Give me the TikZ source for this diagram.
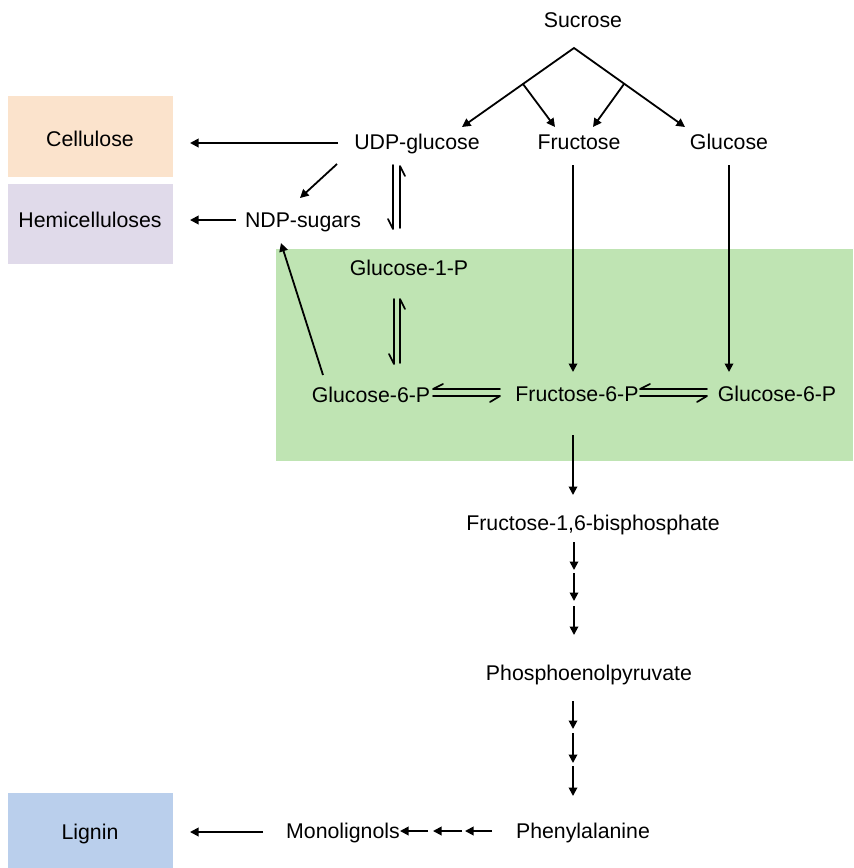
\documentclass[tikz,border=0pt]{standalone}
\usepackage{fontspec}
\setmainfont{Liberation Sans}
\usetikzlibrary{arrows.meta,calc}
\definecolor{cellc}{RGB}{251,227,204}
\definecolor{hemic}{RGB}{224,218,234}
\definecolor{greenc}{RGB}{191,228,179}
\definecolor{ligc}{RGB}{186,207,236}
\begin{document}
\begin{tikzpicture}[x=1pt,y=-1pt,
  lbl/.style={font=\fontsize{21.3}{25}\selectfont, inner sep=0pt, anchor=center, text height=15pt, text depth=0pt},
  areabox/.style={draw=none, inner sep=0pt, anchor=north west},
  arr/.style={line width=1.8pt, -{Triangle[length=8.5pt,width=8.5pt]}},
  darr/.style={line width=1.8pt, {Triangle[length=8.5pt,width=8.5pt]}-{Triangle[length=8.5pt,width=8.5pt]}},
  ln/.style={line width=1.7pt, line join=round, line cap=round}]
\useasboundingbox (0,0) rectangle (854,868);
% coloured areas
\node[areabox, fill=cellc, minimum width=165pt, minimum height=81pt] (cellbox) at (8,96) {};
\node[areabox, fill=hemic, minimum width=165pt, minimum height=80pt] (hemibox) at (8,184) {};
\node[areabox, fill=ligc, minimum width=165pt, minimum height=75pt] (ligbox) at (8,793) {};
\node[areabox, fill=greenc, minimum width=577pt, minimum height=212pt] (greenbox) at (276,249) {};
% labels
\node[lbl] (suc) at (583,20) {Sucrose};
\node[lbl] (udp) at (417,142) {UDP-glucose};
\node[lbl] (fru) at (579,142) {Fructose};
\node[lbl] (glc) at (729,142) {Glucose};
\node[lbl] (cell) at (90,139) {Cellulose};
\node[lbl] (hemi) at (90,220) {Hemicelluloses};
\node[lbl] (ndp) at (303,220) {NDP-sugars};
\node[lbl] (g1p) at (409,268) {Glucose-1-P};
\node[lbl] (g6pl) at (371,395) {Glucose-6-P};
\node[lbl] (f6p) at (577,394) {Fructose-6-P};
\node[lbl] (g6pr) at (777,394) {Glucose-6-P};
\node[lbl] (fbp) at (593,523) {Fructose-1,6-bisphosphate};
\node[lbl] (pep) at (589,673) {Phosphoenolpyruvate};
\node[lbl] (phe) at (583,831) {Phenylalanine};
\node[lbl] (mono) at (343,831) {Monolignols};
\node[lbl] (lig) at (90,832) {Lignin};
% sucrose split
\coordinate (apex) at (574,48);
\coordinate (bl) at (523,84);
\coordinate (br) at (624,84);
\coordinate (tudp) at (462,127);
\coordinate (tfru) at (555,127);
\coordinate (tfrub) at (593,127);
\coordinate (tglc) at (685,127);
\draw[darr, line join=miter] (tudp) -- (apex) -- (tglc);
\draw[arr] (bl) -- (tfru);
\draw[arr] (br) -- (tfrub);
% UDP-glucose branches
\coordinate (udpw) at (338,143);
\coordinate (cellt) at (190,143);
\draw[arr] (udpw) -- (cellt);
\coordinate (udpsw) at (337,164);
\coordinate (ndpt) at (300,198);
\draw[arr] (udpsw) -- (ndpt);
\coordinate (ndpw) at (236,220);
\coordinate (hemit) at (190,220);
\draw[arr] (ndpw) -- (hemit);
% UDP-glucose <=> Glucose-1-P
\coordinate (ua) at (393,165);
\coordinate (ub) at (393,229);
\coordinate (uc) at (400,228);
\coordinate (ud) at (400,166);
\draw[ln] (ua) -- (ub) -- ++(-5,-10);
\draw[ln] (uc) -- (ud) -- ++(5,10);
% Glucose-1-P <=> Glucose-6-P
\coordinate (ga) at (394,299);
\coordinate (gb) at (394,364);
\coordinate (gc) at (400,363);
\coordinate (gd) at (400,299);
\draw[ln] (ga) -- (gb) -- ++(-5,-10);
\draw[ln] (gc) -- (gd) -- ++(5,10);
% Glucose-6-P -> NDP-sugars
\coordinate (g6up) at (323,375);
\coordinate (ndps) at (281,243);
\draw[arr] (g6up) -- (ndps);
% Glucose-6-P <=> Fructose-6-P
\coordinate (ha) at (500,389);
\coordinate (hb) at (433,389);
\coordinate (hc) at (433,396);
\coordinate (hd) at (500,396);
\draw[ln] (ha) -- (hb) -- ++(10,-5);
\draw[ln] (hc) -- (hd) -- ++(-10,6);
% Fructose-6-P <=> Glucose-6-P
\coordinate (ka) at (707,389);
\coordinate (kb) at (640,389);
\coordinate (kc) at (640,396);
\coordinate (kd) at (707,396);
\draw[ln] (ka) -- (kb) -- ++(10,-5);
\draw[ln] (kc) -- (kd) -- ++(-10,6);
% hexoses into glycolysis
\coordinate (fruS) at (573,165);
\coordinate (f6pN) at (573,372);
\draw[arr] (fruS) -- (f6pN);
\coordinate (glcS) at (729,165);
\coordinate (g6prN) at (729,372);
\draw[arr] (glcS) -- (g6prN);
\coordinate (f6pS) at (573,435);
\coordinate (fbpN) at (573,495);
\draw[arr] (f6pS) -- (fbpN);
% multi-step arrows
\foreach \i/\a/\b in {1/542/570,2/573/601,3/606/635}{
  \coordinate (fs\i) at (574,\a);
  \coordinate (fe\i) at (574,\b);
  \draw[arr] (fs\i) -- (fe\i);
}
\foreach \i/\a/\b in {1/701/729,2/733/763,3/766/796}{
  \coordinate (ps\i) at (573,\a);
  \coordinate (pe\i) at (573,\b);
  \draw[arr] (ps\i) -- (pe\i);
}
\foreach \i/\a/\b in {1/492/465,2/462/433,3/428/400}{
  \coordinate (ms\i) at (\a,831);
  \coordinate (me\i) at (\b,831);
  \draw[arr] (ms\i) -- (me\i);
}
\coordinate (monoW) at (263,832);
\coordinate (ligE) at (190,832);
\draw[arr] (monoW) -- (ligE);
\end{tikzpicture}
\end{document}
